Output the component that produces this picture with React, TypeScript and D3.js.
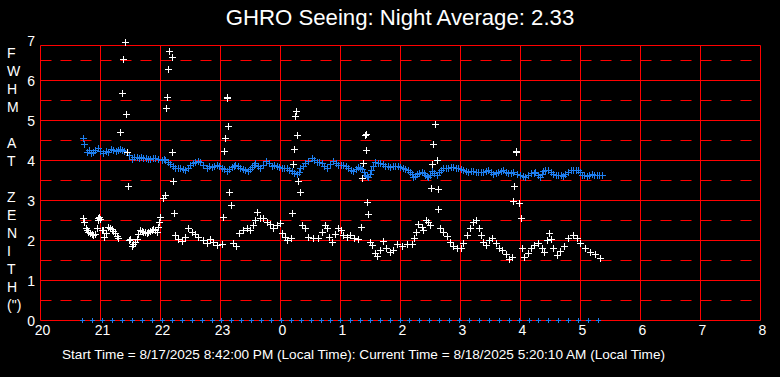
import React from "react";
import * as d3 from "d3";

// ---- Data (minutes after 20:00 local time, FWHM arcsec) ----
const TITLE = "GHRO Seeing: Night Average: 2.33";
const FOOTER =
  "Start Time = 8/17/2025 8:42:00 PM (Local Time): Current Time = 8/18/2025 5:20:10 AM (Local Time)";
const hourLabels = ["20", "21", "22", "23", "0", "1", "2", "3", "4", "5", "6", "7", "8"];
const yLabels = [0, 1, 2, 3, 4, 5, 6, 7];
const axisLetters = ["F", "W", "H", "M", "", "A", "T", "", "Z", "E", "N", "I", "T", "H", '(")'];

const blueSeries: [number, number][] = [
  [43.3, 4.55], [44.3, 4.4], [46.7, 4.21], [49, 4.24], [51, 4.18], [53.3, 4.19], [55, 4.26], [57.7, 4.29],
  [60, 4.22], [63.3, 4.17], [65.5, 4.22], [68.3, 4.21], [70.5, 4.27], [73.3, 4.25], [75.5, 4.22], [78.3, 4.25],
  [80, 4.28], [81.7, 4.25], [84, 4.22], [86.7, 4.19], [89, 4.12], [91.7, 4.03], [94, 4.08], [96.7, 4.08],
  [99, 4.05], [101, 4.07], [103.3, 4.06], [106, 4.04], [108, 4.02], [110, 4.03], [112.5, 4.06], [115, 4.04],
  [118, 4.02], [121.7, 4.0], [123.5, 4.02], [125, 4.0], [127.5, 3.95], [130, 3.89], [132.5, 3.84], [135, 3.81],
  [137.5, 3.8], [140, 3.79], [142.5, 3.78], [145, 3.75], [147.5, 3.8], [150, 3.875], [152.5, 3.93], [155, 3.96],
  [157.5, 3.98], [160, 3.96], [163, 3.88], [166.7, 3.81], [169, 3.84], [171.7, 3.83], [174, 3.86], [176.7, 3.875],
  [179, 3.84], [181.7, 3.81], [184, 3.77], [186.7, 3.725], [189, 3.78], [191.7, 3.83], [193.5, 3.86], [195, 3.875],
  [197.5, 3.84], [200, 3.81], [202.5, 3.78], [205, 3.75], [208.3, 3.725], [210, 3.78], [211.7, 3.83], [213.5, 3.88],
  [215, 3.92], [217.5, 3.85], [220, 3.79], [223, 3.88], [226, 3.975], [229, 3.92], [231.7, 3.86], [234, 3.87],
  [236.7, 3.86], [239, 3.82], [241.7, 3.79], [244, 3.8], [246.7, 3.79], [249, 3.76], [251.7, 3.725], [254, 3.68],
  [256.7, 3.64], [258.5, 3.7], [260, 3.79], [262.5, 3.86], [265, 3.92], [268, 3.98], [271.7, 4.04], [274, 4.0],
  [276.7, 3.96], [279, 3.94], [281.7, 3.92], [284, 3.86], [286.7, 3.81], [290, 3.9], [293.3, 3.975], [296, 3.92],
  [298.3, 3.875], [300.5, 3.88], [303.3, 3.875], [306, 3.84], [308.3, 3.81], [311, 3.76], [313.3, 3.725], [316, 3.78],
  [318.3, 3.83], [320, 3.8], [321.7, 3.775], [323.5, 3.7], [325, 3.625], [326.7, 3.6], [328.3, 3.58], [329.5, 3.66],
  [330.7, 3.75], [333, 3.86], [335, 3.94], [337.5, 3.93], [340, 3.92], [342.5, 3.89], [345, 3.86], [347.5, 3.84],
  [350, 3.83], [352.5, 3.85], [355, 3.86], [357.5, 3.84], [360, 3.83], [362.5, 3.8], [365, 3.775], [368, 3.74],
  [370, 3.71], [371.7, 3.65], [373.3, 3.58], [375, 3.6], [376.7, 3.64], [379, 3.68], [381.7, 3.71], [383.5, 3.67],
  [385, 3.625], [386.7, 3.6], [388.3, 3.58], [390, 3.62], [391.7, 3.725], [394, 3.68], [396.7, 3.625], [398.5, 3.7],
  [400.5, 3.75], [403.3, 3.79], [405.5, 3.81], [408.3, 3.81], [410.5, 3.83], [413.3, 3.83], [415.5, 3.81], [418.3, 3.79],
  [420.5, 3.77], [423.3, 3.75], [425.5, 3.73], [428.3, 3.71], [430.5, 3.72], [433.3, 3.725], [435.5, 3.7], [438.3, 3.69],
  [440.5, 3.7], [443.3, 3.71], [445.5, 3.73], [448.3, 3.75], [450.5, 3.7], [453.3, 3.64], [455.5, 3.67], [458.3, 3.69],
  [460.5, 3.72], [463.3, 3.75], [465.5, 3.71], [468.3, 3.67], [470.5, 3.68], [473.3, 3.69], [476.5, 3.66], [480, 3.625],
  [482.5, 3.6], [485, 3.58], [487.5, 3.62], [491, 3.67], [493.5, 3.68], [495, 3.69], [497.5, 3.63], [500, 3.58],
  [501.5, 3.66], [503.3, 3.725], [505.5, 3.74], [508.3, 3.75], [510.5, 3.7], [513.3, 3.64], [515.5, 3.63], [518.3, 3.625],
  [520.5, 3.62], [523.3, 3.61], [525.5, 3.66], [528.3, 3.71], [530.5, 3.74], [533.3, 3.75], [535.5, 3.76], [538.3, 3.75],
  [540, 3.7], [541.7, 3.625], [544, 3.62], [546.7, 3.61], [549, 3.63], [551.7, 3.64], [554, 3.63], [556.7, 3.625],
  [559, 3.63], [561.7, 3.625],
];

const whiteSeries: [number, number][] = [
  [43.3, 2.54], [44.3, 2.46], [45.7, 2.31], [47, 2.25], [48.3, 2.21], [50, 2.18], [51.7, 2.14], [53.3, 2.12],
  [55, 2.14], [56.7, 2.31], [57.5, 2.5], [58.3, 2.56], [59, 2.58], [60, 2.52], [61.7, 2.25], [63.3, 2.25],
  [64.3, 2.08], [66, 2.18], [68.3, 2.33], [70, 2.3], [71.7, 2.28], [73.3, 2.22], [75, 2.17], [76.7, 2.1],
  [78.3, 2.06], [80.3, 4.71], [82.3, 5.67], [83.3, 6.52], [85, 6.94], [86.3, 5.14], [87.3, 4.19], [88.3, 3.34],
  [89.3, 2.0], [90, 2.02], [91.7, 1.86], [93, 1.9], [95, 1.94], [96.7, 2.03], [98.3, 2.15], [100, 2.25],
  [101.7, 2.23], [103.3, 2.21], [105, 2.19], [106.7, 2.17], [108.3, 2.2], [110, 2.225], [111.7, 2.25], [113.3, 2.28],
  [115, 2.24], [116.7, 2.21], [118.3, 2.33], [119.3, 2.45], [120.3, 2.57], [123.3, 3.04], [125, 3.125], [126.3, 5.29],
  [127.3, 5.57], [128.3, 6.27], [129.3, 6.725], [131.7, 6.57], [132.3, 4.19], [133.3, 3.475], [134.3, 2.67],
  [135, 2.125], [138.3, 2.03], [141.7, 1.975], [145, 2.08], [148.3, 2.31], [151.7, 2.21], [155, 2.14], [158.3, 2.08],
  [163.3, 2.0], [166.7, 1.92], [170, 2.03], [173.3, 1.96], [176.7, 1.875], [181.7, 1.89], [183.3, 2.57], [184.3, 4.22],
  [185.3, 4.54], [186.7, 5.54], [187.3, 5.57], [188.3, 4.85], [189.3, 3.19], [191.3, 2.875], [193.3, 1.92], [195.7, 1.86],
  [199, 2.17], [203.3, 2.25], [206.7, 2.31], [210, 2.25], [213.3, 2.375], [215, 2.5], [216.7, 2.71], [220, 2.56],
  [223.3, 2.54], [226.7, 2.46], [230, 2.39], [233.3, 2.31], [236.7, 2.375], [240, 2.42], [242.3, 2.17], [245, 2.08],
  [247.3, 2.0], [250.7, 2.06], [252.3, 2.67], [253.3, 3.89], [254.3, 4.27], [255.3, 5.11], [256, 5.225], [257.3, 4.625],
  [258.3, 3.475], [260, 3.19], [261.7, 2.375], [265, 2.29], [268.3, 2.08], [273.3, 2.04], [278.3, 2.04], [281.7, 2.21],
  [285, 2.375], [287.3, 2.29], [289, 2.08], [291.7, 1.94], [295, 2.14], [298.3, 2.29], [300.7, 2.25], [303.3, 2.125],
  [306.7, 2.08], [310, 2.125], [314, 2.06], [318.3, 2.03], [321.3, 2.32], [322, 3.54], [323.3, 3.92], [325, 4.625],
  [325.6, 4.64], [326.3, 4.24], [327.3, 2.94], [328.3, 2.64], [330, 1.94], [331.7, 1.875], [335, 1.67], [336.7, 1.61],
  [340, 1.75], [342.7, 1.975], [346, 1.79], [350, 1.69], [352.7, 1.75], [356.7, 1.89], [361.7, 1.86], [366.7, 1.89],
  [371.7, 1.89], [374.3, 2.04], [375.7, 2.21], [378.3, 2.39], [381.7, 2.33], [383.3, 2.25], [386, 2.5], [388.3, 2.46],
  [390, 2.375], [391, 3.29], [392.3, 3.89], [393.3, 4.39], [395, 4.89], [396.7, 3.99], [397.7, 3.27], [398.3, 2.77],
  [400, 2.31], [403.3, 2.21], [406.7, 2.1], [410, 1.96], [413.3, 1.85], [416.7, 1.81], [421, 1.79], [423.3, 1.92],
  [426.7, 2.125], [430, 2.29], [433.3, 2.46], [435.7, 2.5], [439, 2.31], [441, 2.125], [443.3, 1.96], [445.7, 1.875],
  [449, 2.0], [452.3, 2.04], [455.7, 1.92], [459, 1.79], [462.3, 1.75], [465.7, 1.64], [469, 1.525], [472.3, 1.58],
  [473.3, 2.975], [474.3, 3.36], [475.7, 4.21], [476.3, 4.23], [479.3, 2.92], [480.7, 2.54], [481.7, 1.79], [484.3, 1.58],
  [487.7, 1.67], [491, 1.79], [494.3, 1.875], [498.3, 1.92], [502.3, 1.79], [504.3, 1.71], [506.7, 2.0], [509, 2.17],
  [511, 2.03], [513.3, 1.79], [516.7, 1.625], [520, 1.725], [524.3, 1.86], [528.3, 2.04], [533.3, 2.125], [536.7, 2.04],
  [540, 1.92], [545, 1.81], [550, 1.71], [555, 1.64], [560, 1.56],
];

// status markers drawn on the zero line
const zeroTimes = [
  42, 52, 62, 72, 82, 92, 102, 112, 122, 132, 142, 152, 162, 172, 181, 191, 201, 211, 221, 231, 241, 251, 261,
  271, 281, 290, 300, 310, 320, 330, 340, 350, 360, 369, 379, 389, 399, 409, 419, 429, 439, 449, 459, 469, 479,
  489, 498, 508, 518, 528, 538, 548, 558,
];

const W = 780;
const H = 377;
const RED = "#ff0000";
const BLUE = "#1e7ff0";
const FONT = "'Liberation Sans', Arial, sans-serif";

const x = d3.scaleLinear().domain([0, 720]).range([40.5, 760.5]);
const y = d3.scaleLinear().domain([0, 7]).range([320.5, 40.5]);
const yTop = y(6.875);

function plusPath(data: [number, number][], arm: number) {
  let p = "";
  for (const [t, v] of data) {
    const cx = Math.round(x(t) - 0.5) + 0.5;
    const cy = Math.round(y(v) - 0.5) + 0.5;
    p += `M${cx - arm - 0.5},${cy}h${2 * arm + 1}M${cx},${cy - arm - 0.5}v${2 * arm + 1}`;
  }
  return p;
}

export default function App() {
  const hourPositions = hourLabels.map((_, i) => i * 60);
  const solidY = d3.range(1, 7);
  const dashedY = d3.range(0.5, 7, 1);
  return (
    <svg
      width={W}
      height={H}
      style={{ position: "absolute", left: 0, top: 0, background: "#000" }}
      fontFamily={FONT}
    >
      <rect width={W} height={H} fill="#000" />
      <text x={400} y={25} fill="#fff" fontSize={22.2} textAnchor="middle">
        {TITLE}
      </text>
      {/* grid */}
      {dashedY.map((v) => (
        <line key={"d" + v} x1={x(0)} x2={x(720)} y1={y(v)} y2={y(v)} stroke={RED} strokeDasharray="11 9" />
      ))}
      {solidY.map((v) => (
        <line key={"s" + v} x1={x(0)} x2={x(720)} y1={y(v)} y2={y(v)} stroke={RED} />
      ))}
      {hourPositions.map((t) => (
        <line key={"v" + t} x1={x(t)} x2={x(t)} y1={yTop} y2={y(0)} stroke={RED} />
      ))}
      <line x1={x(0)} x2={x(720)} y1={yTop} y2={yTop} stroke={RED} />
      <line x1={x(0)} x2={x(720)} y1={y(0)} y2={y(0)} stroke={RED} />
      {/* y labels */}
      {yLabels.map((v) => (
        <text key={"yl" + v} x={35} y={y(v) + 5} fill="#fff" fontSize={14} textAnchor="end">
          {v}
        </text>
      ))}
      {/* x labels */}
      {hourLabels.map((lab, i) => (
        <text key={"xl" + i} x={x(i * 60) + 2} y={335} fill="#fff" fontSize={14} textAnchor="middle">
          {lab}
        </text>
      ))}
      {/* axis title letters */}
      {axisLetters.map((c, i) => (
        <text key={"al" + i} x={7} y={58 + i * 18} fill="#fff" fontSize={14}>
          {c}
        </text>
      ))}
      <text x={62} y={359} fill="#fff" fontSize={13.6}>
        {FOOTER}
      </text>
      {/* data */}
      <path d={plusPath(blueSeries, 3)} stroke={BLUE} strokeWidth={1} fill="none" />
      <path d={plusPath(whiteSeries, 3)} stroke="#fff" strokeWidth={1} fill="none" />
      <path d={plusPath(zeroTimes.map((t) => [t, 0] as [number, number]), 2)} stroke={BLUE} strokeWidth={1} fill="none" />
    </svg>
  );
}
